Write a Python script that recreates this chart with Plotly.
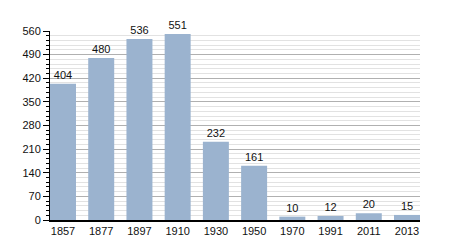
import plotly.graph_objects as go

years = ["1857", "1877", "1897", "1910", "1930", "1950", "1970", "1991", "2011", "2013"]
population = [404, 480, 536, 551, 232, 161, 10, 12, 20, 15]
y_ticks = [0, 70, 140, 210, 280, 350, 420, 490, 560]

fig = go.Figure(go.Bar(
    x=years, y=population,
    marker=dict(color="#9bb3cf", line=dict(width=0)),
    width=0.68,
    text=[str(v) for v in population],
    textposition="outside",
    textfont=dict(family="Liberation Sans, Arial, sans-serif", size=11, color="#111"),
    cliponaxis=False,
))

fig.update_layout(
    width=450, height=250,
    margin=dict(l=50, r=30, t=31, b=30),
    paper_bgcolor="white", plot_bgcolor="white",
    showlegend=False,
    font=dict(family="Liberation Sans, Arial, sans-serif", size=11, color="#111"),
    xaxis=dict(
        type="category", range=[-0.34, 9.34],
        showline=True, linecolor="black", linewidth=1.5,
        ticks="", showgrid=False, tickfont=dict(size=11),
        fixedrange=True,
    ),
    yaxis=dict(
        range=[0, 560], tickvals=y_ticks,
        showline=True, linecolor="black", linewidth=1,
        ticks="outside", ticklen=6, tickcolor="black", tickwidth=1,
        showgrid=True, gridcolor="#b0b0b0", gridwidth=1,
        zeroline=False, tickfont=dict(size=11),
        minor=dict(dtick=14, tick0=0, ticks="outside", ticklen=3, tickcolor="black",
                   showgrid=True, gridcolor="#e2e2e2", gridwidth=1),
    ),
)

fig.write_html("out.html")
